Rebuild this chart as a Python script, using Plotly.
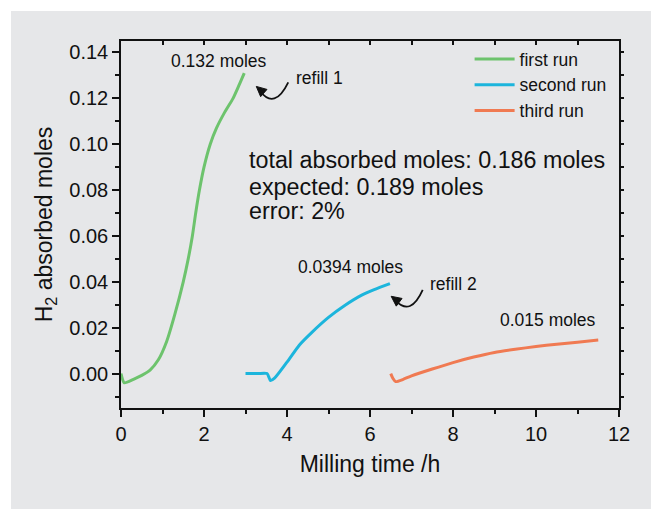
import math
import plotly.graph_objects as go

# ---- data ----
run1_x = [0, 0.08, 0.3, 0.5, 0.7, 0.9, 1.1, 1.3, 1.5, 1.62, 1.72, 1.8, 1.89, 2.0, 2.15, 2.3, 2.5, 2.7, 2.85, 2.97]
run1_y = [0.0, -0.004, -0.0025, -0.0008, 0.0015, 0.006, 0.014, 0.026, 0.04, 0.05, 0.06, 0.07, 0.08, 0.09, 0.10, 0.107, 0.114, 0.12, 0.126, 0.131]

run2_x = [3.0, 3.3, 3.52, 3.6, 3.7, 4.0, 4.3, 4.6, 5.0, 5.4, 5.8, 6.1, 6.3, 6.48]
run2_y = [0.0, 0.0, 0.0, -0.003, -0.002, 0.005, 0.0125, 0.018, 0.0245, 0.0298, 0.0342, 0.0366, 0.0380, 0.0392]

run3_x = [6.5, 6.55, 6.62, 6.8, 7.0, 7.5, 8.0, 8.5, 9.0, 9.5, 10.0, 10.5, 11.0, 11.5]
run3_y = [0.0, -0.002, -0.0035, -0.0025, -0.001, 0.002, 0.0048, 0.0072, 0.0092, 0.0106, 0.0118, 0.0128, 0.0137, 0.0146]

series_names = ["first run", "second run", "third run"]
series_colors = ["#6dc36d", "#1cb5dc", "#f07a52"]

x_range = [0, 12]
y_range = [-0.015, 0.145]

BG = "#e6e7e9"
FONT = "Liberation Sans, Arial, sans-serif"
TXT = "#111111"

W, H = 651, 509
ML, MR, MT, MB = 121, 32, 41, 101
PW, PH = W - ML - MR, H - MT - MB
SX = PW / (x_range[1] - x_range[0])   # px per data unit
SY = PH / (y_range[1] - y_range[0])

fig = go.Figure()
for xs, ys, name, col in zip([run1_x, run2_x, run3_x], [run1_y, run2_y, run3_y], series_names, series_colors):
    fig.add_trace(go.Scatter(x=xs, y=ys, mode="lines", name=name,
                             line=dict(color=col, width=3, shape="spline", smoothing=0.6)))

# invisible trace for the mirrored top/right tick axes
fig.add_trace(go.Scatter(x=x_range, y=y_range, xaxis="x2", yaxis="y2", mode="markers",
                         marker=dict(opacity=0), showlegend=False, hoverinfo="skip"))

annotations = [
    dict(x=2.37, y=0.1365, text="0.132 moles", font=dict(size=17.5)),
    dict(x=4.17, y=0.1287, text="refill 1", xanchor="left", font=dict(size=17.5)),
    dict(x=5.52, y=0.0465, text="0.0394 moles", font=dict(size=17.5)),
    dict(x=7.39, y=0.039, text="refill 2", xanchor="left", font=dict(size=17.5)),
    dict(x=10.28, y=0.0235, text="0.015 moles", font=dict(size=17.5)),
    dict(x=3.03, y=0.093, text="total absorbed moles: 0.186 moles", xanchor="left", font=dict(size=23.3)),
    dict(x=3.03, y=0.0813, text="expected: 0.189 moles", xanchor="left", font=dict(size=23.3)),
    dict(x=3.03, y=0.0709, text="error: 2%", xanchor="left", font=dict(size=23.3)),
]
for a in annotations:
    a.update(xref="x", yref="y", showarrow=False, yanchor="middle")
    a.setdefault("xanchor", "center")
    a["font"].update(family=FONT, color=TXT)
    fig.add_annotation(**a)

# curved refill arrows (quadratic curves + filled arrowheads)
arrow_paths = [
    # start, control, end, tip, direction (px, screen coords)
    ((4.03, 0.127), (3.70, 0.1148), (3.35, 0.1232), (3.26, 0.1252), (-0.75, -0.66)),
    ((7.27, 0.0365), (6.98, 0.0248), (6.62, 0.0318), (6.51, 0.0337), (-0.8, -0.6)),
]
for p0, c, p2, tip, d in arrow_paths:
    fig.add_shape(type="path", xref="x", yref="y",
                  path=f"M {p0[0]},{p0[1]} Q {c[0]},{c[1]} {p2[0]},{p2[1]}",
                  line=dict(color=TXT, width=1.8))
    n = math.hypot(*d)
    dx, dy = d[0] / n, d[1] / n
    L, Hh = 10, 4.8
    bx, by = -dx * L, -dy * L          # base centre offset from tip (px)
    px_, py_ = -dy * Hh, dx * Hh       # perpendicular
    pts = [(0, 0), (bx + px_, by + py_), (bx - px_, by - py_)]
    coords = [(tip[0] + ox / SX, tip[1] - oy / SY) for ox, oy in pts]
    path = "M " + " L ".join(f"{x},{y}" for x, y in coords) + " Z"
    fig.add_shape(type="path", xref="x", yref="y", path=path,
                  fillcolor=TXT, line=dict(color=TXT, width=1))

# gray panel behind everything
fig.add_shape(type="rect", xref="paper", yref="paper", x0=(11 - ML) / PW, x1=1.2, y0=-0.4,
              y1=1 + (MT - 11) / PH, fillcolor=BG, line=dict(width=0), layer="below")

axis_common = dict(showgrid=False, zeroline=False, linecolor="#111", linewidth=1.5,
                   tickcolor="#111", tickwidth=1.5)

fig.update_layout(
    width=W, height=H,
    margin=dict(l=ML, r=MR, t=MT, b=MB),
    paper_bgcolor="white", plot_bgcolor=BG,
    font=dict(family=FONT, color=TXT, size=20),
    xaxis=dict(range=x_range, dtick=2, ticks="outside", ticklen=7, showline=True,
               minor=dict(dtick=1, ticks="outside", ticklen=4, tickcolor="#111", tickwidth=1.5),
               title=dict(text="Milling time /h", font=dict(size=23), standoff=12),
               tickfont=dict(size=20), **axis_common),
    yaxis=dict(range=y_range, dtick=0.02, tick0=0, tickformat=".2f", ticks="outside", ticklen=7,
               showline=True,
               minor=dict(dtick=0.01, ticks="outside", ticklen=4, tickcolor="#111", tickwidth=1.5),
               title=dict(text="H<sub>2</sub> absorbed moles", font=dict(size=23), standoff=10),
               tickfont=dict(size=20), **axis_common),
    xaxis2=dict(range=x_range, overlaying="x", side="top", anchor="y2", dtick=1, ticks="inside",
                ticklen=4, showticklabels=False, showline=True, **axis_common),
    yaxis2=dict(range=y_range, overlaying="y", side="right", anchor="x2", dtick=0.01, tick0=0,
                ticks="outside", ticklen=3, showticklabels=False, showline=True, **axis_common),
    legend=dict(x=0.70, y=1.0, xanchor="left", yanchor="top", bgcolor="rgba(0,0,0,0)",
                font=dict(size=17.5, family=FONT, color=TXT), itemwidth=40, tracegroupgap=0),
    showlegend=True,
)

fig.write_html("out.html")
